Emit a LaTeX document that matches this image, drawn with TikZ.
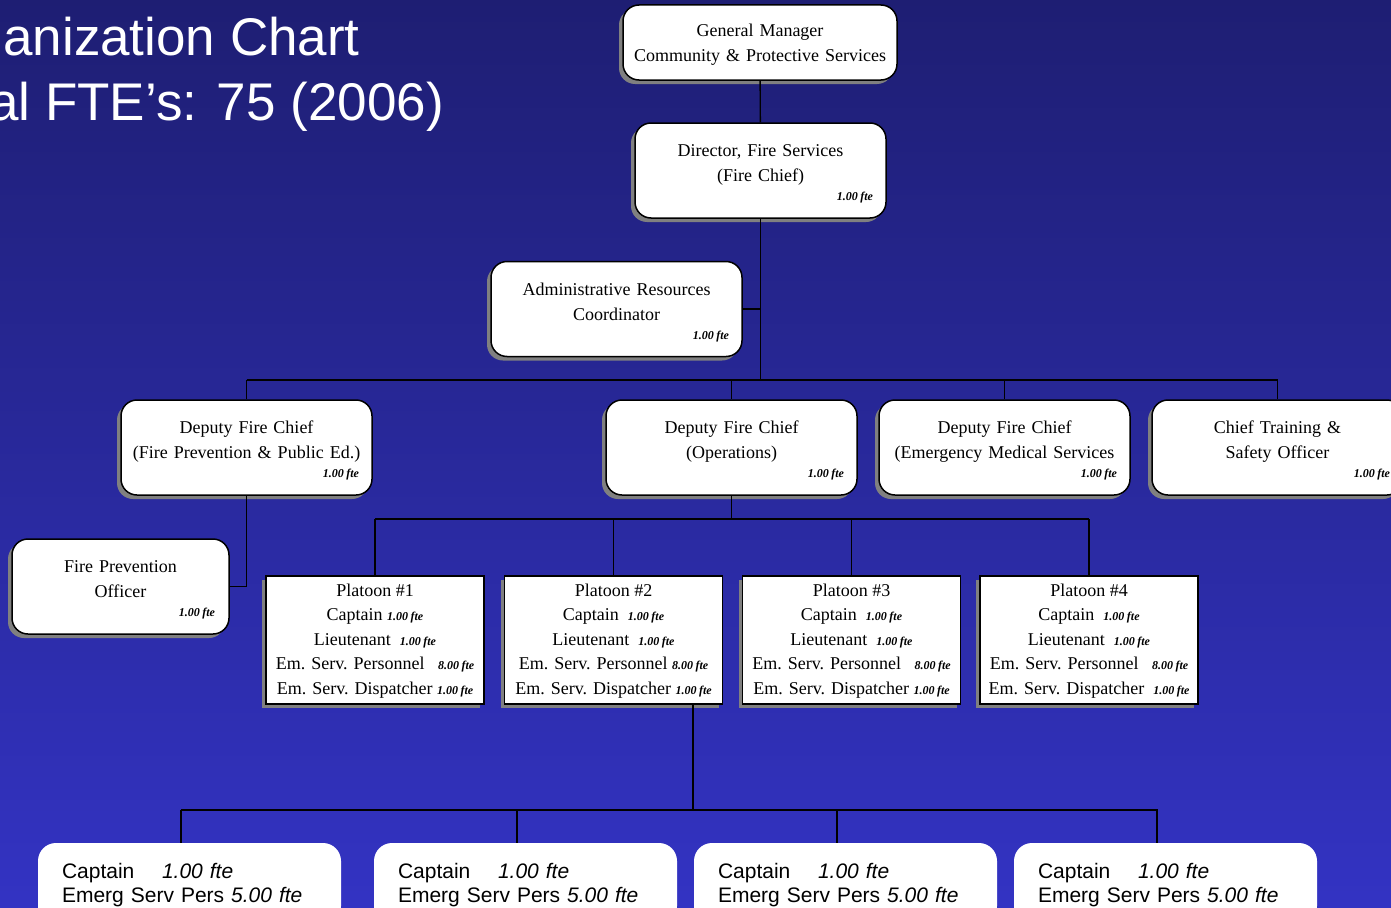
\documentclass[tikz,border=0pt]{standalone}
\usepackage{fontspec}
\setmainfont{Liberation Serif}
\newfontfamily\arialfont{Liberation Sans}
\usetikzlibrary{shadows}
\definecolor{bgtop}{RGB}{30,30,115}
\definecolor{bgbot}{RGB}{51,51,195}
\definecolor{shadowgray}{RGB}{128,128,128}
% small bold-italic staffing figure
\newcommand\fte[1]{{\fontsize{12}{12}\selectfont\bfseries\itshape #1}}
\newcommand\ftes[1]{\fte{#1\hspace{2.5pt}fte}}
% raises the first line of a box so the text block sits a little lower
\newcommand\lift[1]{\rule{0pt}{#1}}
% figure set flush right on the last line of a box
\newcommand\figline{\\[-6pt]\hspace*{\fill}\ftes{1.00}}
% platoon listing; arguments 2-5 are the gaps before each figure
\newcommand\platoon[5]{\lift{14pt}Platoon \##1\\Captain#2\ftes{1.00}\\Lieutenant#3\ftes{1.00}\\Em. Serv. Personnel#4\ftes{8.00}\\Em. Serv. Dispatcher#5\ftes{1.00}}
\newcommand\crew{\lift{19pt}\makebox[100pt][l]{Captain}\textit{1.00 fte}\\Emerg Serv Pers \textit{5.00 fte}}
\begin{document}
\begin{tikzpicture}[x=1pt,y=-1pt,
  box/.style={draw=black, line width=1.5pt, fill=white, inner sep=0pt, align=center,
    font=\fontsize{18}{25}\selectfont,
    drop shadow={shadow xshift=-4pt, shadow yshift=-4pt, fill=shadowgray, opacity=1}},
  rbox/.style={box, rounded corners=16pt, minimum width=251pt, minimum height=95pt, text width=225pt},
  pbox/.style={box, minimum width=218pt, minimum height=128pt, font=\fontsize{18}{24.5}\selectfont},
  cbox/.style={fill=white, rounded corners=18pt, minimum width=303pt, minimum height=81pt,
    text width=255pt, align=left, inner sep=0pt, text=black, font=\arialfont\fontsize{21}{24}\selectfont},
  link/.style={draw=black, line width=1.4pt},
  title/.style={text=white, inner sep=0pt, font=\arialfont\fontsize{53}{60}\selectfont}
]
\useasboundingbox (0,0) rectangle (1391,907);
\clip (0,0) rectangle (1391,907);
\shade[top color=bgtop, bottom color=bgbot] (0,0) rectangle (1391,907);

% heading
\node[title, anchor=base east] (t1) at (360,56) {anization Chart};
\node[title, anchor=base east] (t2) at (444,120) {al FTE’s: 75 (2006)};

% management
\node[rbox, minimum width=274pt, minimum height=75pt, text width=260pt] (gm) at (760,42.5)
  {\lift{16.5pt}General Manager\\Community \& Protective Services};
\node[rbox] (dir) at (760.5,170.5)
  {\lift{19pt}Director, Fire Services\\(Fire Chief)\figline};
\node[rbox] (adm) at (616.5,309)
  {\lift{19pt}Administrative Resources\\Coordinator\figline};

% deputies
\node[rbox] (dfp) at (246.5,447.5)
  {\lift{19pt}Deputy Fire Chief\\\makebox[225pt][c]{(Fire Prevention \& Public Ed.)}\figline};
\node[rbox] (dops) at (731.5,447.5)
  {\lift{19pt}Deputy Fire Chief\\(Operations)\figline};
\node[rbox] (dems) at (1004.5,447.5)
  {\lift{19pt}Deputy Fire Chief\\(Emergency Medical Services\figline};
\node[rbox] (cts) at (1277.5,447.5)
  {\lift{19pt}Chief Training \&\\Safety Officer\figline};
\node[rbox, minimum width=217pt, text width=189pt] (fpo) at (120.5,586.5)
  {\lift{19pt}Fire Prevention\\Officer\figline};

% platoons
\node[pbox] (p1) at (375,640) {\platoon{1}{ }{\ \ }{\ \ \ }{ }};
\node[pbox] (p2) at (613.5,640) {\platoon{2}{\ \ }{\ \ }{ }{ }};
\node[pbox] (p3) at (851.5,640) {\platoon{3}{\ \ }{\ \ }{\ \ \ }{ }};
\node[pbox] (p4) at (1089,640) {\platoon{4}{\ \ }{\ \ }{\ \ \ }{\ \ }};

% crews
\node[cbox] (b1) at (189.5,883.5) {\crew};
\node[cbox] (b2) at (525.5,883.5) {\crew};
\node[cbox] (b3) at (845.5,883.5) {\crew};
\node[cbox] (b4) at (1165.5,883.5) {\crew};

% reporting lines
\coordinate (bus1) at (760.5,380);
\draw[link] (gm) -- (dir);
\draw[link] (dir.south) -- (bus1);
\draw[link] (adm.east) -- (adm.east -| dir.south);
\draw[link] (bus1 -| dfp.north) -- (bus1 -| cts.north);
\foreach \n in {dfp,dops,dems,cts} \draw[link] (bus1 -| \n.north) -- (\n.north);
\draw[link] (dfp.south) |- (fpo.east);

\coordinate (bus2) at (731.5,519);
\draw[link] (dops.south) -- (bus2);
\draw[link] (bus2 -| p1.north) -- (bus2 -| p4.north);
\foreach \n in {p1,p2,p3,p4} \draw[link] (bus2 -| \n.north) -- (\n.north);

\coordinate (bus3) at (693,810);
\draw[link] (bus3 |- p2.south) -- (bus3);
\draw[link] ([xshift=-8.5pt]b1.north |- bus3) -- ([xshift=-7.5pt]b4.north |- bus3);
\foreach \n in {b1,b2,b3,b4} \draw[link] ([xshift=-8.5pt]\n.north |- bus3) -- ([xshift=-8.5pt]\n.north);
\end{tikzpicture}
\end{document}
